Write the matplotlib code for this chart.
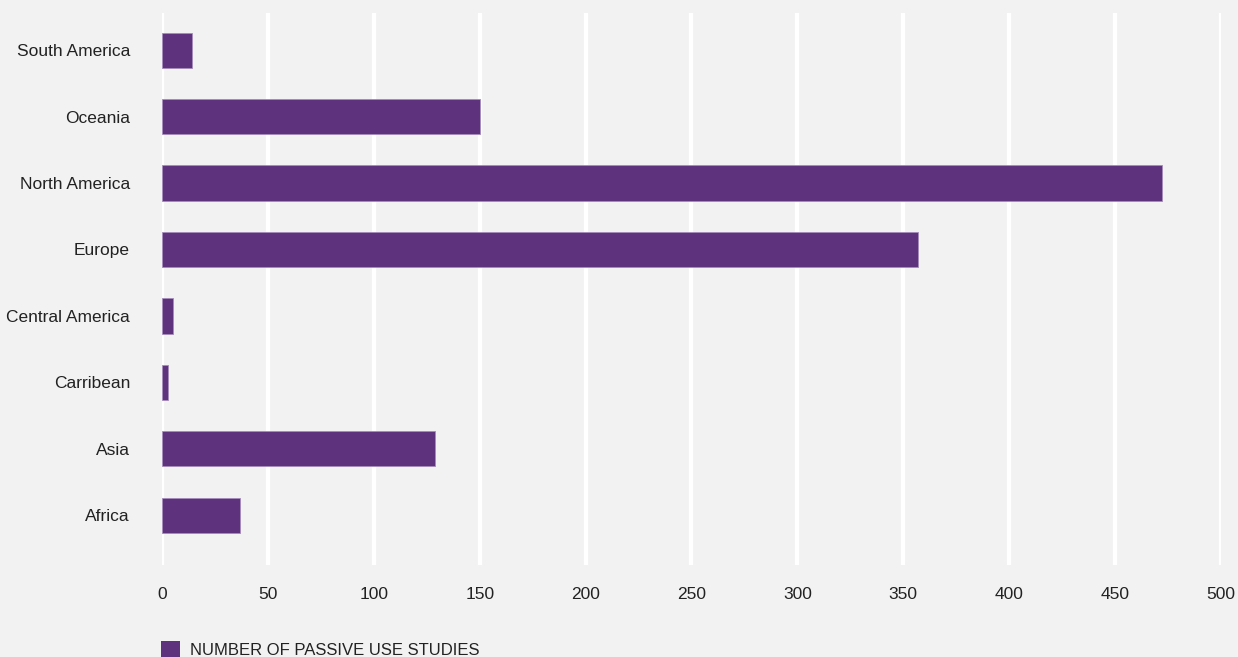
import matplotlib.pyplot as plt
from matplotlib.patches import Patch

# data (bottom to top)
regions = ["Africa", "Asia", "Carribean", "Central America", "Europe",
           "North America", "Oceania", "South America"]
studies = [37, 129, 3, 5, 357, 472, 150, 14]
xticks = [0, 50, 100, 150, 200, 250, 300, 350, 400, 450, 500]

bg = "#f2f2f2"
purple = "#5e327d"

plt.rcParams['font.family'] = ['Liberation Sans', 'DejaVu Sans']

fig = plt.figure(figsize=(12.38, 6.57), dpi=100, facecolor=bg)
ax = fig.add_axes([162 / 1238, 1 - 565 / 657, (1221 - 162) / 1238, (565 - 13) / 657])
ax.set_facecolor(bg)

ypos = range(len(regions))
ax.barh(ypos, studies, height=0.53, color=purple, edgecolor="#a58bbb",
        linewidth=0.6, zorder=3)

ax.set_xlim(0, 500)
ax.set_ylim(-0.75, 7.56)
ax.set_xticks(xticks)
ax.set_yticks(list(ypos))
ax.set_yticklabels(regions)
ax.grid(axis="x", color="white", linewidth=3, zorder=0)
ax.grid(axis="y", visible=False)
for s in ax.spines.values():
    s.set_visible(False)
ax.tick_params(length=0, labelsize=12.5, colors="#222222")
ax.tick_params(axis="x", pad=15.5)
ax.tick_params(axis="y", pad=23)

fig.legend(handles=[Patch(facecolor=purple, label="NUMBER OF PASSIVE USE STUDIES")],
           loc="lower left", bbox_to_anchor=(146 / 1238, -0.024), frameon=False,
           fontsize=12, handlelength=1.15, handleheight=1.15, handletextpad=0.6,
           labelcolor="#222222")

fig.savefig("out.png", dpi=100, facecolor=bg)
